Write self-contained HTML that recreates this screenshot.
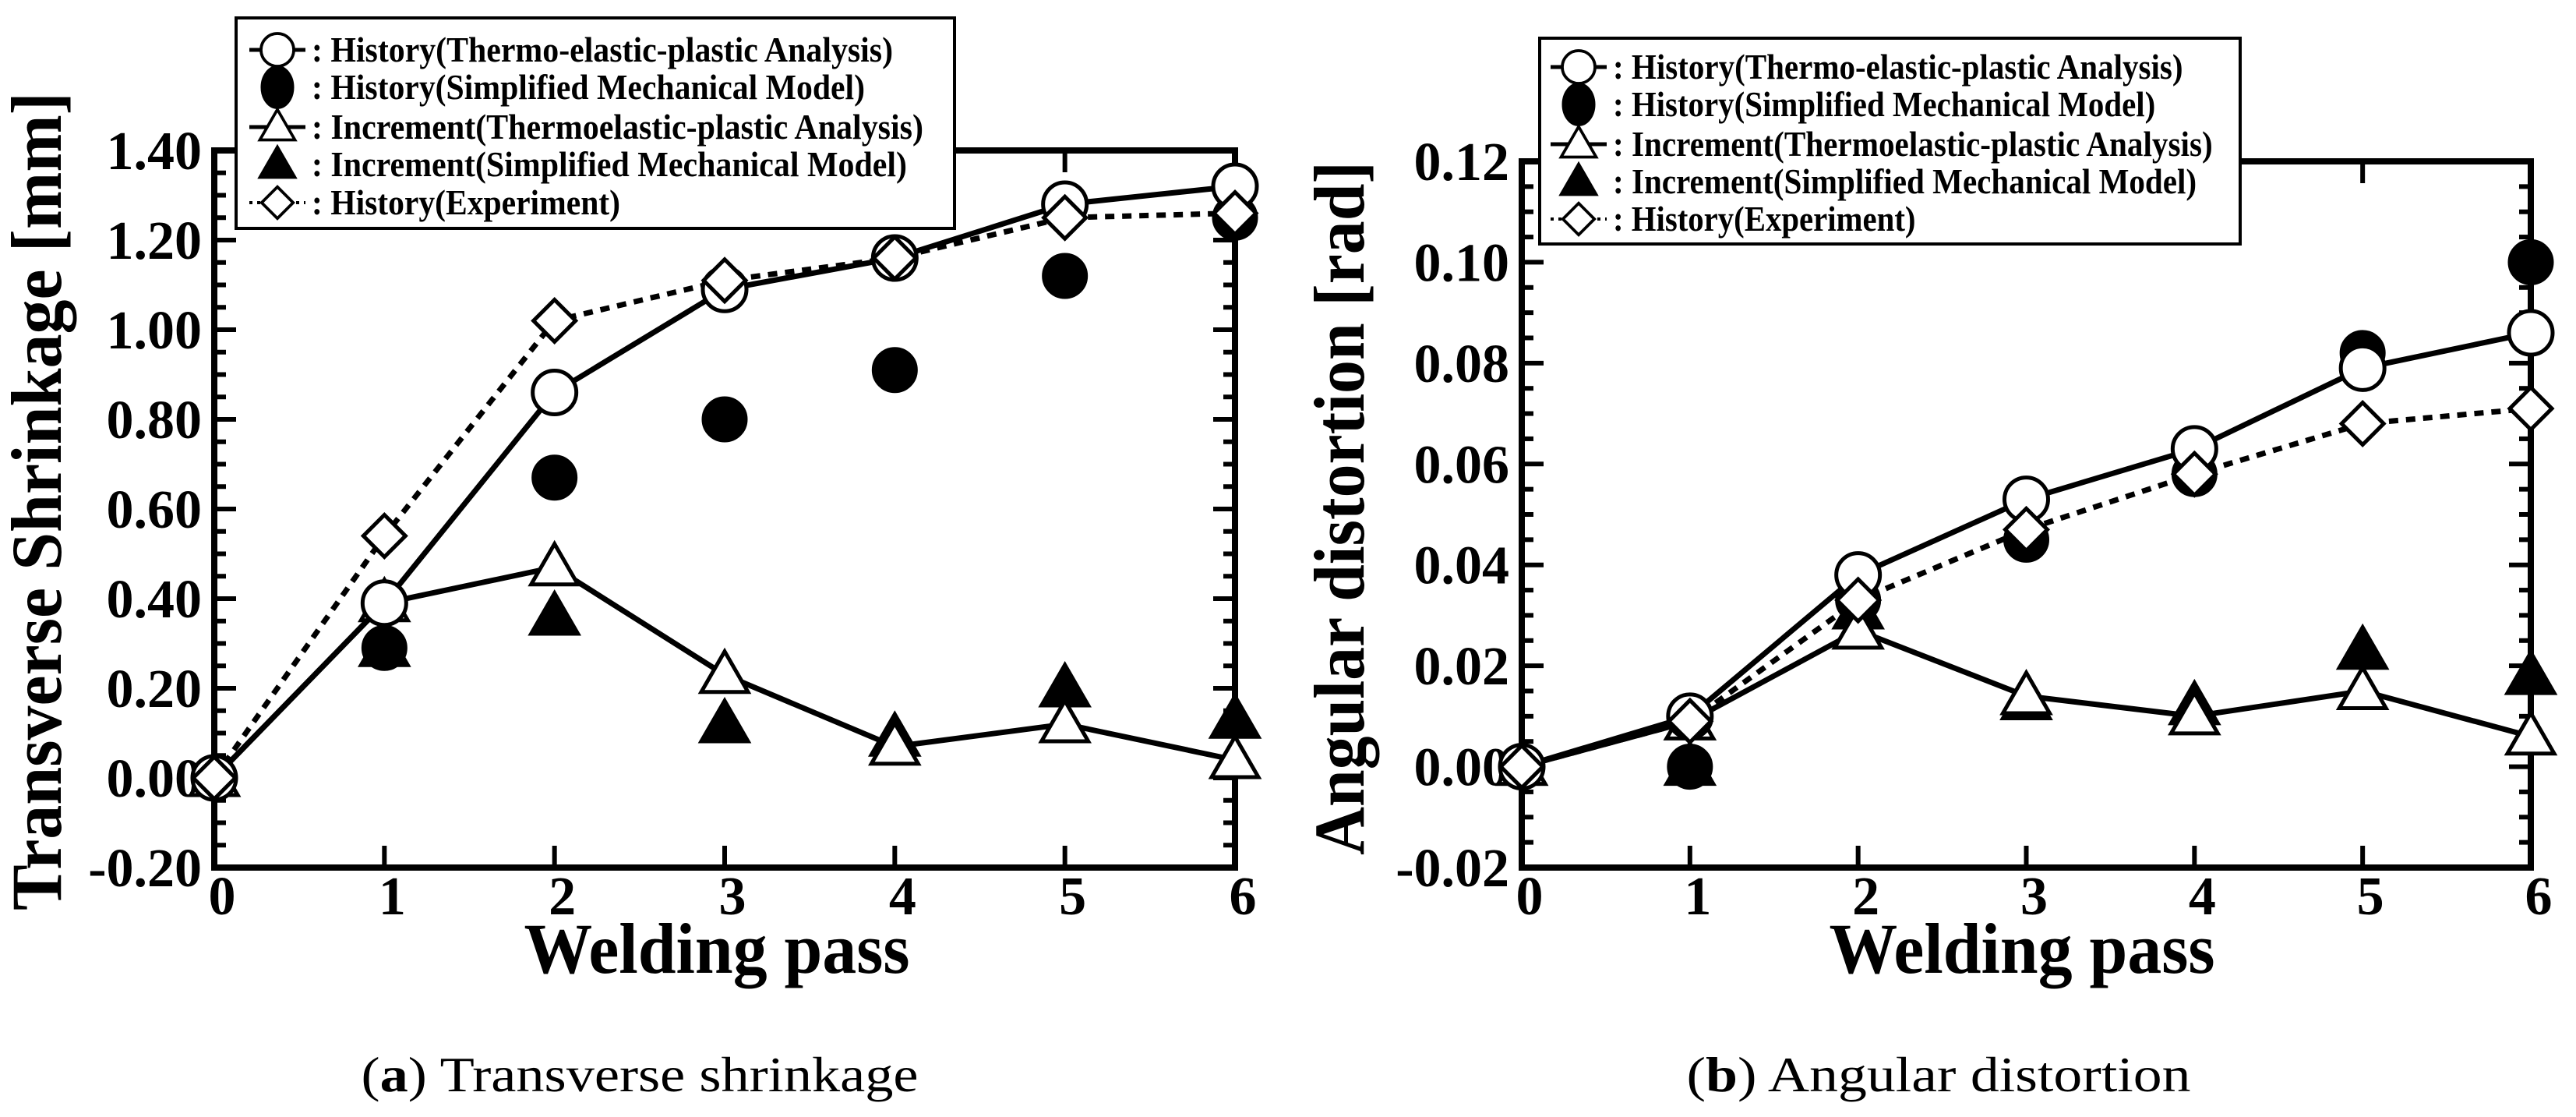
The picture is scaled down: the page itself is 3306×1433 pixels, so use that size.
<!DOCTYPE html>
<html><head><meta charset="utf-8"><style>
html,body{margin:0;padding:0;background:#fff;}
svg{display:block;}
</style></head><body>
<svg id="fig" width="3306" height="1433" viewBox="0 0 3306 1433" xmlns="http://www.w3.org/2000/svg"></svg>
<script>
// ---- data: chart (a) transverse shrinkage ----
const passes = [0, 1, 2, 3, 4, 5, 6];
const xTickLabels = ["0", "1", "2", "3", "4", "5", "6"];
const aYTicks = [-0.2, 0, 0.2, 0.4, 0.6, 0.8, 1.0, 1.2, 1.4];
const aYTickLabels = ["-0.20", "0.00", "0.20", "0.40", "0.60", "0.80", "1.00", "1.20", "1.40"];
const aHistTEP = [0, 0.39, 0.86, 1.09, 1.16, 1.28, 1.32];
const aHistSMM = [0, 0.29, 0.67, 0.80, 0.91, 1.12, 1.25];
const aIncTEP = [0, 0.39, 0.47, 0.23, 0.07, 0.12, 0.04];
const aIncSMM = [0, 0.29, 0.36, 0.12, 0.09, 0.20, 0.13];
const aHistExp = [0, 0.54, 1.02, 1.11, 1.16, 1.25, 1.26];
// ---- data: chart (b) angular distortion ----
const bYTicks = [-0.02, 0, 0.02, 0.04, 0.06, 0.08, 0.10, 0.12];
const bYTickLabels = ["-0.02", "0.00", "0.02", "0.04", "0.06", "0.08", "0.10", "0.12"];
const bHistTEP = [0, 0.010, 0.038, 0.053, 0.063, 0.079, 0.086];
const bHistSMM = [0, 0.000, 0.033, 0.045, 0.058, 0.082, 0.100];
const bIncTEP = [0, 0.009, 0.027, 0.014, 0.010, 0.015, 0.006];
const bIncSMM = [0, 0.000, 0.031, 0.013, 0.012, 0.023, 0.018];
const bHistExp = [0, 0.009, 0.033, 0.047, 0.058, 0.068, 0.071];
const legendLabels = [": History(Thermo-elastic-plastic Analysis)", ": History(Simplified Mechanical Model)", ": Increment(Thermoelastic-plastic Analysis)", ": Increment(Simplified Mechanical Model)", ": History(Experiment)"];

const NS = "http://www.w3.org/2000/svg";
const svg = document.getElementById("fig");
function mk(tag, attrs, parent) {
  const e = document.createElementNS(NS, tag);
  for (const k in attrs) e.setAttribute(k, attrs[k]);
  (parent || svg).appendChild(e);
  return e;
}
const SERIF = '"Liberation Serif", serif';

function marker(g, type, cx, cy, name) {
  let e;
  const r = 28;
  if (type === "oc") e = mk("circle", {cx, cy, r, fill: "#fff", stroke: "#000", "stroke-width": 5}, g);
  if (type === "fc") e = mk("circle", {cx, cy, r, fill: "#000", stroke: "#000", "stroke-width": 3}, g);
  if (type === "ot" || type === "ft") {
    const h = 30;
    e = mk("polygon", {points: `${cx},${cy - h} ${cx + 30},${cy + 22} ${cx - 30},${cy + 22}`, fill: type === "ot" ? "#fff" : "#000", stroke: "#000", "stroke-width": 5, "stroke-linejoin": "miter"}, g);
  }
  if (type === "od") e = mk("polygon", {points: `${cx},${cy - 27} ${cx + 27},${cy} ${cx},${cy + 27} ${cx - 27},${cy}`, fill: "#fff", stroke: "#000", "stroke-width": 5}, g);
  
  
  return e;
}

function chart(cfg) {
  const g = mk("g", {});
  
  
  const {L, R, T, B, ymin, ymax} = cfg;
  const xs = v => L + (v - 0) / 6 * (R - L);
  const ys = v => B - (v - ymin) / (ymax - ymin) * (B - T);
  const tg = mk("g", {stroke: "#000", "stroke-width": 6}, g);
  
  
  const step = cfg.yTicks[1] - cfg.yTicks[0];
  for (let i = 0; i < cfg.yTicks.length; i++) {
    const v = cfg.yTicks[i];
    const y = ys(v);
    mk("line", {x1: L, x2: L + 28, y1: y, y2: y}, tg);
    mk("line", {x1: R, x2: R - 28, y1: y, y2: y}, tg);
    if (i < cfg.yTicks.length - 1) for (let k = 1; k < 4; k++) {
      const yy = ys(v + step * k / 4);
      mk("line", {x1: L, x2: L + 15, y1: yy, y2: yy}, tg);
      mk("line", {x1: R, x2: R - 15, y1: yy, y2: yy}, tg);
    }
    const t = mk("text", {x: L - 16, y: y + 24, "text-anchor": "end", "font-family": SERIF, "font-weight": "bold", "font-size": 70}, g);
    t.textContent = cfg.yTickLabels[i];
    
    
  }
  for (let i = 0; i < passes.length; i++) {
    const x = xs(passes[i]);
    mk("line", {x1: x, x2: x, y1: B, y2: B - 28}, tg);
    mk("line", {x1: x, x2: x, y1: T, y2: T + 28}, tg);
    const t = mk("text", {x: x + 10, y: B + 60, "text-anchor": "middle", "font-family": SERIF, "font-weight": "bold", "font-size": 70}, g);
    t.textContent = xTickLabels[i];
    
    
  }
  const frame = mk("rect", {x: L, y: T, width: R - L, height: B - T, fill: "none", stroke: "#000", "stroke-width": 8}, g);
  
  
  const yt = mk("text", {x: 0, y: 0, transform: `translate(${cfg.ytX},${(T + B) / 2 + cfg.ytDy}) rotate(-90)`, "text-anchor": "middle", "font-family": SERIF, "font-weight": "bold", "font-size": 92, textLength: cfg.ytLen, lengthAdjust: "spacingAndGlyphs"}, g);
  yt.textContent = cfg.yTitle;
  
  
  const xt = mk("text", {x: cfg.xtX, y: 1248, "text-anchor": "middle", "font-family": SERIF, "font-weight": "bold", "font-size": 92, textLength: 495, lengthAdjust: "spacingAndGlyphs"}, g);
  xt.textContent = "Welding pass";
  
  
  const d = arr => arr.map((v, i) => (i ? "L" : "M") + xs(passes[i]) + "," + ys(v)).join(" ");
  const lines = [[cfg.histExp, "7", "12,10", "line-history-experiment"], [cfg.incTEP, "7", "", "line-increment-tep"], [cfg.histTEP, "7", "", "line-history-tep"]];
  for (const [arr, w, dash, nm] of lines) {
    const p = mk("path", {d: d(arr), fill: "none", stroke: "#000", "stroke-width": w, "stroke-dasharray": dash || "none"}, g);
    
    
  }
  const sets = [[cfg.histSMM, "fc", "point-history-smm"], [cfg.incSMM, "ft", "point-increment-smm"], [cfg.incTEP, "ot", "point-increment-tep"], [cfg.histTEP, "oc", "point-history-tep"], [cfg.histExp, "od", "point-history-experiment"]];
  for (const [arr, type, nm] of sets) arr.forEach((v, i) => marker(g, type, xs(passes[i]), ys(v), nm));
  const lg = mk("g", {}, g);
  
  
  const lb = mk("rect", {x: cfg.lgX, y: cfg.lgY, width: cfg.lgW, height: cfg.lgH, fill: "#fff", stroke: "#000", "stroke-width": 4}, lg);
  
  
  const types = ["oc", "fc", "ot", "ft", "od"];
  const widths = [726, 690, 765, 744, 376];
  for (let i = 0; i < 5; i++) {
    const y = cfg.rows[i];
    const mx = cfg.mX;
    if (i === 0 || i === 2) mk("line", {x1: mx - 36, x2: mx + 36, y1: y, y2: y, stroke: "#000", "stroke-width": 5}, lg);
    if (i === 4) mk("line", {x1: mx - 36, x2: mx + 36, y1: y, y2: y, stroke: "#000", "stroke-width": 4, "stroke-dasharray": "4,6"}, lg);
    const m = marker(lg, types[i], mx, y, 'legend-marker');
    if (types[i] === "fc") { m.setAttribute("r", 20); m.setAttribute("transform", `translate(${mx},${y}) scale(1,1.3) translate(${-mx},${-y})`); }
    else m.setAttribute("transform", `translate(${mx},${y}) scale(0.75) translate(${-mx},${-y})`);
    const t = mk("text", {x: cfg.tX, y: y + 15, "font-family": SERIF, "font-weight": "bold", "font-size": 46, textLength: widths[i] * cfg.wScale + 20, lengthAdjust: "spacingAndGlyphs"}, lg);
    t.textContent = legendLabels[i];
    
    
  }
  const c = mk("text", {x: cfg.capX, y: 1400, "text-anchor": "middle", "font-family": SERIF, "font-size": 64, textLength: cfg.capLen, lengthAdjust: "spacingAndGlyphs"}, g);
  c.innerHTML = cfg.caption;
  
  
}

chart({name: "chart-transverse-shrinkage", L: 275, R: 1585, T: 193, B: 1113, ymin: -0.2, ymax: 1.4,
  yTicks: aYTicks, yTickLabels: aYTickLabels, histTEP: aHistTEP, histSMM: aHistSMM, incTEP: aIncTEP, incSMM: aIncSMM, histExp: aHistExp,
  yTitle: "Transverse Shrinkage [mm]", ytX: 78, ytDy: -10, ytLen: 1050, xtX: 920,
  lgX: 303, lgY: 23, lgW: 922, lgH: 270, rows: [64, 112, 163, 211, 260], mX: 356, tX: 400, wScale: 1,
  capX: 821, capLen: 715, caption: '(<tspan font-weight="bold">a</tspan>) Transverse shrinkage'});
chart({name: "chart-angular-distortion", L: 1953, R: 3248, T: 207, B: 1113, ymin: -0.02, ymax: 0.12,
  yTicks: bYTicks, yTickLabels: bYTickLabels, histTEP: bHistTEP, histSMM: bHistSMM, incTEP: bIncTEP, incSMM: bIncSMM, histExp: bHistExp,
  yTitle: "Angular distortion [rad]", ytX: 1750, ytDy: -8, ytLen: 890, xtX: 2595,
  lgX: 1976, lgY: 49, lgW: 899, lgH: 264, rows: [86, 134, 185, 233, 281], mX: 2026, tX: 2070, wScale: 0.98,
  capX: 2488, capLen: 647, caption: '(<tspan font-weight="bold">b</tspan>) Angular distortion'});
</script>
</body></html>
